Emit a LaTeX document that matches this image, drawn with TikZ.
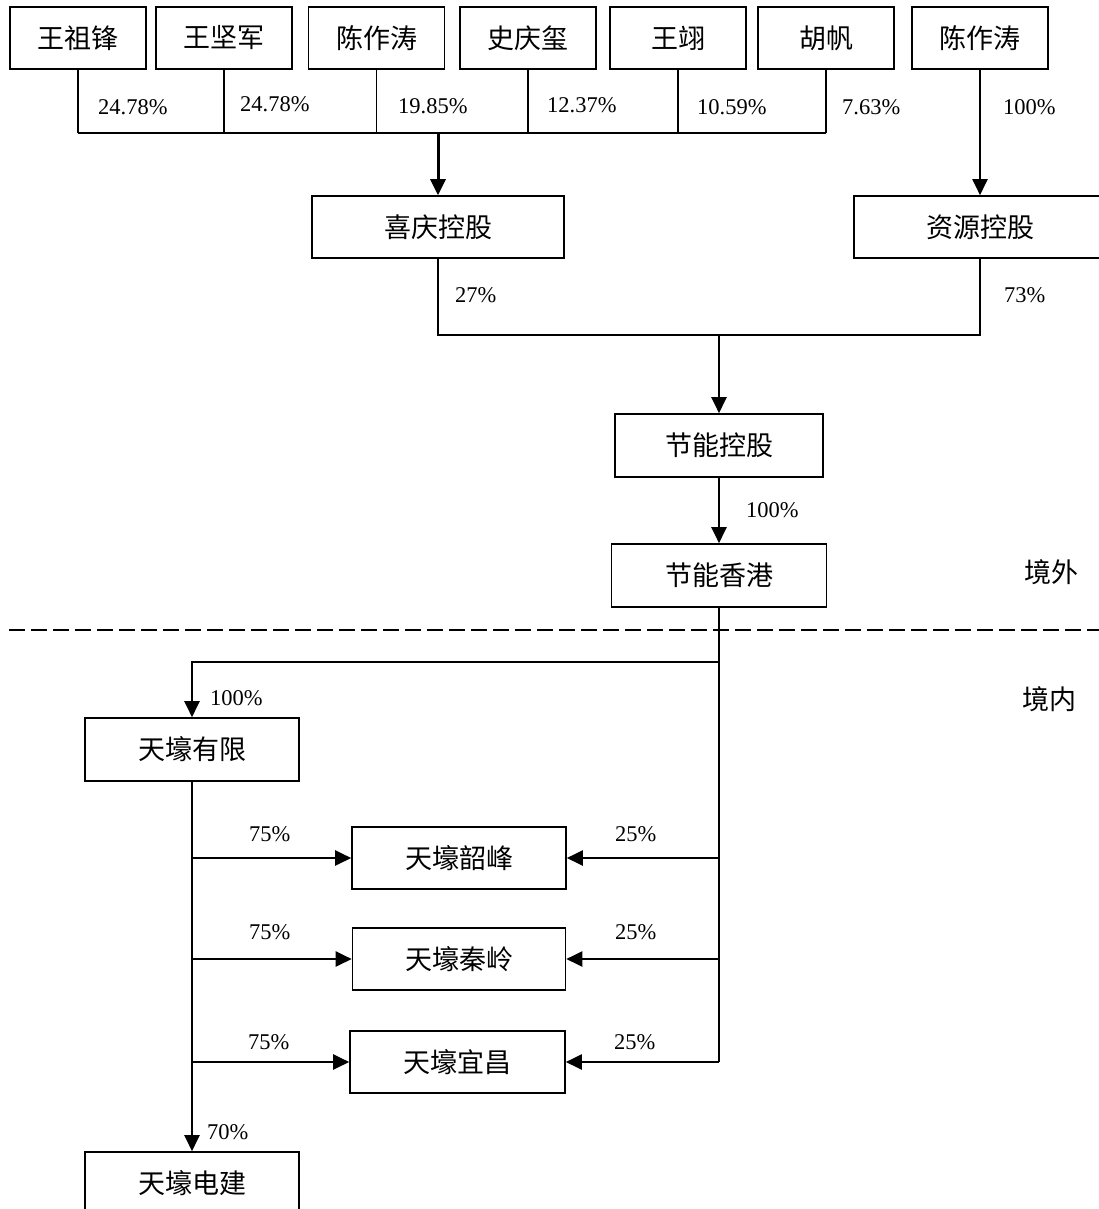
\documentclass[tikz,border=0pt]{standalone}
\usepackage{fontspec}
\setmainfont{Liberation Serif}
\newfontfamily\cjk{Noto Sans CJK SC}
\usetikzlibrary{arrows.meta}
\begin{document}
\begin{tikzpicture}[x=1pt,y=-1pt,
  box/.style={draw, line width=1.6pt, inner sep=0pt, minimum height=62pt,
    font=\cjk\fontsize{27}{27}\selectfont},
  pbox/.style={box, minimum width=136pt},
  pct/.style={anchor=west, inner sep=0pt, font=\fontsize{22.5}{22.5}\selectfont},
  lbl/.style={anchor=west, inner sep=0pt, font=\cjk\fontsize{27}{27}\selectfont},
  thin/.style={line width=1.6pt},
  bus/.style={line width=2.3pt},
  conn/.style={line width=2.1pt},
  arr/.style={-{Triangle[length=16pt,width=15pt]}},
]
\useasboundingbox (0,0) rectangle (1099,1209);

% shareholders
\node[pbox] (p1) at (78,38) {王祖锋};
\node[pbox] (p2) at (224,38) {王坚军};
\node[pbox] (p3) at (376.5,38) {陈作涛};
\node[pbox] (p4) at (528,38) {史庆玺};
\node[pbox] (p5) at (678,38) {王翊};
\node[pbox] (p6) at (826,38) {胡帆};
\node[pbox] (p7) at (980,38) {陈作涛};

% holding companies
\node[box, minimum width=252pt] (xq) at (438,227) {喜庆控股};
\node[box, minimum width=252pt] (zy) at (980,227) {资源控股};
\node[box, minimum width=208pt, minimum height=63pt] (jk) at (719,445.5) {节能控股};
\node[box, minimum width=215pt, minimum height=63pt] (jh) at (719,575.5) {节能香港};
\node[box, minimum width=214pt, minimum height=63pt] (th) at (192,749.5) {天壕有限};
\node[box, minimum width=214pt] (sf) at (459,858) {天壕韶峰};
\node[box, minimum width=213pt] (ql) at (459,959) {天壕秦岭};
\node[box, minimum width=215pt] (yc) at (457.5,1062) {天壕宜昌};
\node[box, minimum width=214pt] (dj) at (192,1183) {天壕电建};

% bus coordinates
\coordinate (b1) at (78,133);
\coordinate (b6) at (826,133);
\coordinate (bx) at (438,133);
\coordinate (m1) at (438,335);
\coordinate (m2) at (980,335);
\coordinate (mj) at (719,335);
\coordinate (h1) at (719,662);
\coordinate (h2) at (192,662);
\coordinate (rb) at (719,1062);
\coordinate (r1) at (719,858);
\coordinate (r2) at (719,959);
\coordinate (l1) at (192,858);
\coordinate (l2) at (192,959);
\coordinate (l3) at (192,1062);

% top connectors
\draw[thin] (p1.south) -- (b1);
\draw[thin] (p2.south) -- (p2.south |- b1);
\draw[thin] (p3.south) -- (p3.south |- b1);
\draw[thin] (p4.south) -- (p4.south |- b1);
\draw[thin] (p5.south) -- (p5.south |- b1);
\draw[thin] (p6.south) -- (b6);
\draw[bus] (b1) -- (b6);
\draw[line width=3pt, arr] (bx) -- (xq.north);
\draw[conn, arr] (p7.south) -- (zy.north);

% middle
\draw[conn] (xq.south) -- (m1) -- (m2) -- (zy.south);
\draw[conn, arr] (mj) -- (jk.north);
\draw[conn, arr] (jk.south) -- (jh.north);
\draw[conn] (jh.south) -- (rb);
\draw[conn, arr] (h1) -- (h2) -- (th.north);

% lower
\draw[conn, arr] (th.south) -- (dj.north);
\draw[conn, arr] (l1) -- (sf.west);
\draw[conn, arr] (l2) -- (ql.west);
\draw[conn, arr] (l3) -- (yc.west);
\draw[conn, arr] (r1) -- (sf.east);
\draw[conn, arr] (r2) -- (ql.east);
\draw[conn, arr] (rb) -- (yc.east);

% boundary line
\coordinate (d1) at (9,630);
\coordinate (d2) at (1099,630);
\draw[line width=2pt, dash pattern=on 16pt off 6pt] (d1) -- (d2);

% percentages
\node[pct] (t1) at (98,107) {24.78\%};
\node[pct] (t2) at (240,104) {24.78\%};
\node[pct] (t3) at (398,106) {19.85\%};
\node[pct] (t4) at (547,105) {12.37\%};
\node[pct] (t5) at (697,107) {10.59\%};
\node[pct] (t6) at (842,107) {7.63\%};
\node[pct] (t7) at (1003,107) {100\%};
\node[pct] (t8) at (455,295) {27\%};
\node[pct] (t9) at (1004,295) {73\%};
\node[pct] (t10) at (746,510) {100\%};
\node[pct] (t11) at (210,698) {100\%};
\node[pct] (t12) at (249,834) {75\%};
\node[pct] (t13) at (615,834) {25\%};
\node[pct] (t14) at (249,932) {75\%};
\node[pct] (t15) at (615,932) {25\%};
\node[pct] (t16) at (248,1042) {75\%};
\node[pct] (t17) at (614,1042) {25\%};
\node[pct] (t18) at (207,1132) {70\%};

\node[lbl] (ow) at (1024,572) {境外};
\node[lbl] (iw) at (1022,699) {境内};
\end{tikzpicture}
\end{document}
